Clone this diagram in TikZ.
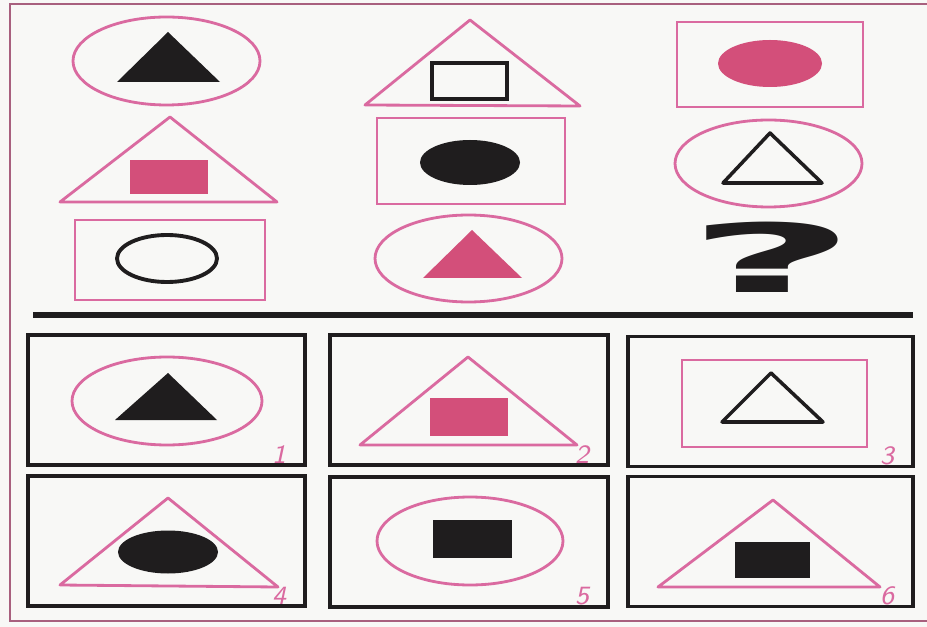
\documentclass[tikz,border=0pt]{standalone}
\usepackage{fontspec}
\usepackage{tikz}
\usetikzlibrary{positioning,shapes.geometric}
\newfontfamily\markfont{DejaVu Sans}
\definecolor{paper}{HTML}{F8F8F6}
\definecolor{ink}{HTML}{1F1D1E}
\definecolor{rose}{HTML}{DA6AA0}
\definecolor{rosefill}{HTML}{D34F7A}
\definecolor{mauve}{HTML}{A8607E}
\tikzset{
  roseline/.style={draw=rose,line width=.8pt,line join=round},
  inkline/.style={draw=ink,line width=1pt,line join=round},
  ring/.style={ellipse,draw=rose,line width=.8pt,inner sep=0pt},
  frame/.style={rectangle,draw=rose,line width=.8pt,inner sep=0pt},
  hollow/.style={rectangle,draw=ink,line width=1.1pt,inner sep=0pt},
  hollowring/.style={ellipse,draw=ink,line width=1.1pt,inner sep=0pt},
  disc/.style={ellipse,fill=#1,inner sep=0pt},
  block/.style={rectangle,fill=#1,inner sep=0pt},
  answer/.style={rectangle,draw=ink,line width=1.1pt,inner sep=0pt,minimum height=1.30cm},
  num/.style={inner sep=0pt,text=rose,font=\fontsize{7.5}{8}\selectfont\sffamily\itshape}
}
\begin{document}
\begin{tikzpicture}
  \useasboundingbox (0,0) rectangle (9.27,-6.27);
  \fill[paper] (0,0) rectangle (9.27,-6.27);
  % outer frame
  \draw[mauve,line width=.7pt] (9.27,-0.04) -- (0.10,-0.04) -- (0.10,-6.21) -- (9.27,-6.21);

  % row 1
  \node[ring,minimum width=1.87cm,minimum height=0.88cm] (q11) at (1.665,-0.61) {};
  \fill[ink] (1.68,-0.32) -- (2.20,-0.82) -- (1.17,-0.82) -- cycle;
  \draw[roseline] (4.70,-0.20) -- (5.80,-1.06) -- (3.65,-1.05) -- cycle;
  \node[hollow,minimum width=0.75cm,minimum height=0.36cm] (q12) at (4.695,-0.81) {};
  \node[frame,minimum width=1.86cm,minimum height=0.85cm] (q13) at (7.70,-0.645) {};
  \node[disc=rosefill,minimum width=1.04cm,minimum height=0.47cm] (q13in) at (7.70,-0.635) {};

  % row 2
  \draw[roseline] (1.70,-1.17) -- (2.77,-2.02) -- (0.60,-2.02) -- cycle;
  \node[block=rosefill,minimum width=0.78cm,minimum height=0.34cm] (q21) at (1.69,-1.77) {};
  \node[frame,minimum width=1.88cm,minimum height=0.86cm] (q22) at (4.71,-1.61) {};
  \node[disc=ink,minimum width=1.00cm,minimum height=0.45cm] (q22in) at (4.70,-1.625) {};
  \node[ring,minimum width=1.87cm,minimum height=0.87cm] (q23) at (7.685,-1.635) {};
  \draw[inkline] (7.70,-1.33) -- (8.22,-1.83) -- (7.23,-1.83) -- cycle;

  % row 3
  \node[frame,minimum width=1.90cm,minimum height=0.80cm] (q31) at (1.70,-2.60) {};
  \node[hollowring,minimum width=1.00cm,minimum height=0.47cm] (q31in) at (1.67,-2.585) {};
  \node[ring,minimum width=1.87cm,minimum height=0.87cm] (q32) at (4.685,-2.585) {};
  \fill[rosefill] (4.72,-2.30) -- (5.22,-2.78) -- (4.23,-2.78) -- cycle;
  \node[inner sep=0pt,text=ink,font=\markfont\bfseries\fontsize{27}{27}\selectfont] (ask) at (7.72,-2.57) {\scalebox{3.1}[1]{?}};

  \draw[ink,line width=1.5pt] (0.33,-3.15) -- (9.13,-3.15);

  % answer boxes
  \foreach \n/\x/\y/\w in {1/1.665/-4.00/2.77,2/4.69/-4.00/2.78,3/7.705/-4.015/2.85,
                           4/1.665/-5.41/2.77,5/4.69/-5.42/2.78,6/7.705/-5.415/2.85}{
    \node[answer,minimum width=\w cm] (ans\n) at (\x,\y) {};
    \node[num,above left=0.03cm and 0.2cm of ans\n.south east] (num\n) {\n};
  }

  % answer 1
  \node[ring,minimum width=1.90cm,minimum height=0.88cm] (a1) at (1.67,-4.01) {};
  \fill[ink] (1.68,-3.73) -- (2.17,-4.20) -- (1.15,-4.20) -- cycle;
  % answer 2
  \draw[roseline] (4.68,-3.57) -- (5.77,-4.45) -- (3.60,-4.45) -- cycle;
  \node[block=rosefill,minimum width=0.78cm,minimum height=0.38cm] (a2) at (4.69,-4.17) {};
  % answer 3
  \node[frame,minimum width=1.85cm,minimum height=0.87cm] (a3) at (7.745,-4.035) {};
  \draw[inkline] (7.71,-3.73) -- (8.23,-4.22) -- (7.22,-4.22) -- cycle;
  % answer 4
  \draw[roseline] (1.68,-4.98) -- (2.78,-5.87) -- (0.60,-5.85) -- cycle;
  \node[disc=ink,minimum width=1.00cm,minimum height=0.43cm] (a4) at (1.68,-5.52) {};
  % answer 5
  \node[ring,minimum width=1.86cm,minimum height=0.88cm] (a5) at (4.70,-5.41) {};
  \node[block=ink,minimum width=0.79cm,minimum height=0.38cm] (a5in) at (4.725,-5.39) {};
  % answer 6
  \draw[roseline] (7.73,-5.00) -- (8.80,-5.87) -- (6.58,-5.87) -- cycle;
  \node[block=ink,minimum width=0.75cm,minimum height=0.36cm] (a6) at (7.725,-5.60) {};
\end{tikzpicture}
\end{document}
